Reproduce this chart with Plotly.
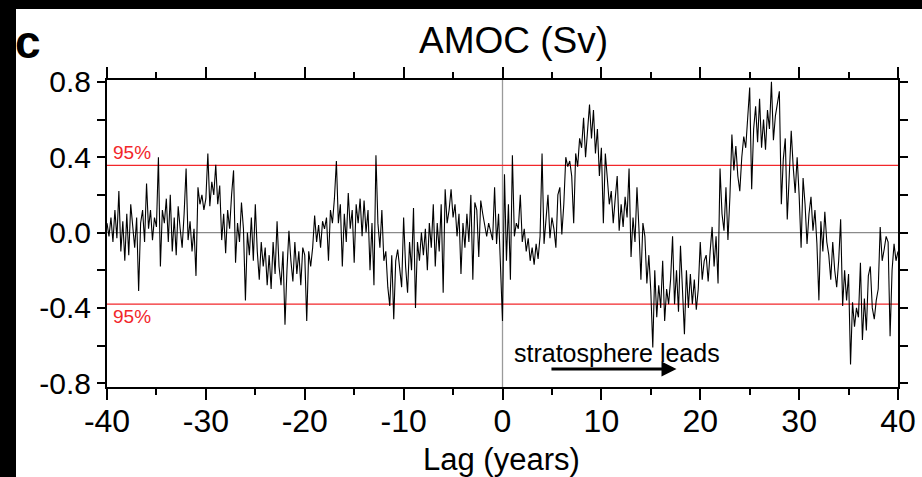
import numpy as np
import plotly.graph_objects as go

# Lag axis: 5 samples per year from -40 to +40 years
lag_start, lag_end, per_year = -40, 40, 5

# AMOC regression (Sv), one row per year of lag (5 samples each), last value at lag 40
amoc_rows = [
    [0.05, -0.02, 0.08, -0.05, 0.12],     # -40
    [-0.03, 0.22, -0.10, 0.06, -0.15],    # -39
    [0.10, -0.12, 0.15, 0.02, -0.08],     # -38
    [0.08, -0.31, 0.05, 0.12, -0.05],     # -37
    [0.26, 0.02, 0.12, -0.04, 0.08],      # -36
    [0.03, 0.40, -0.18, 0.12, 0.05],      # -35
    [0.18, -0.05, 0.20, -0.10, 0.08],     # -34
    [-0.12, 0.14, 0.02, -0.08, 0.10],     # -33
    [0.34, -0.04, 0.06, -0.10, 0.02],     # -32
    [-0.23, 0.24, 0.15, 0.20, 0.12],      # -31
    [0.18, 0.42, 0.14, 0.27, 0.20],       # -30
    [0.36, 0.15, 0.25, -0.04, 0.10],      # -29
    [-0.11, 0.12, 0.02, 0.20, 0.33],      # -28
    [-0.16, 0.05, -0.05, 0.16, 0.02],     # -27
    [-0.36, 0.00, -0.12, 0.08, -0.15],    # -26
    [0.15, -0.10, -0.25, -0.05, -0.18],   # -25
    [-0.08, -0.28, -0.12, -0.30, -0.05],  # -24
    [-0.22, 0.06, -0.18, -0.28, -0.10],   # -23
    [-0.49, -0.20, 0.01, -0.15, -0.26],   # -22
    [-0.05, -0.22, -0.10, -0.28, -0.08],  # -21
    [-0.12, -0.47, -0.10, -0.18, -0.08],  # -20
    [0.09, -0.05, 0.04, -0.08, 0.06],     # -19
    [0.02, 0.08, -0.15, 0.12, 0.05],      # -18
    [0.18, 0.38, 0.05, 0.15, -0.18],      # -17
    [0.10, -0.05, 0.21, 0.02, 0.12],      # -16
    [-0.16, 0.15, 0.05, 0.18, -0.02],     # -15
    [0.17, 0.00, 0.12, -0.20, 0.05],      # -14
    [-0.28, 0.41, 0.05, -0.08, 0.12],     # -13
    [-0.15, -0.10, -0.29, -0.39, -0.12],  # -12
    [-0.46, -0.15, -0.09, -0.20, -0.29],  # -11
    [0.08, -0.18, -0.32, -0.05, -0.20],   # -10
    [0.13, -0.40, -0.05, -0.15, 0.00],    # -9
    [-0.12, 0.02, -0.20, 0.05, -0.08],    # -8
    [0.15, -0.18, 0.05, -0.10, 0.15],     # -7
    [-0.32, 0.23, 0.05, 0.12, 0.23],      # -6
    [0.08, 0.15, -0.02, 0.10, -0.22],     # -5
    [0.05, -0.08, 0.10, -0.05, 0.20],     # -4
    [-0.25, 0.16, 0.12, -0.13, 0.17],     # -3
    [0.10, 0.03, -0.02, 0.05, 0.01],      # -2
    [-0.04, 0.24, -0.06, 0.10, -0.15],    # -1
    [-0.47, 0.31, -0.15, 0.15, -0.25],    # 0
    [0.41, -0.02, 0.05, 0.02, 0.20],      # 1
    [-0.05, 0.02, -0.10, -0.03, -0.15],   # 2
    [-0.08, -0.17, -0.06, -0.14, -0.02],  # 3
    [0.42, -0.06, 0.05, 0.20, -0.03],     # 4
    [0.08, 0.02, -0.08, 0.20, 0.24],      # 5
    [-0.01, 0.15, 0.40, 0.35, 0.38],      # 6
    [0.30, 0.05, 0.42, 0.35, 0.50],       # 7
    [0.45, 0.61, 0.40, 0.55, 0.68],       # 8
    [0.50, 0.65, 0.42, 0.55, 0.30],       # 9
    [0.45, 0.05, 0.42, 0.29, 0.15],       # 10
    [0.22, 0.05, 0.18, 0.30, 0.01],       # 11
    [0.15, 0.03, 0.19, 0.08, 0.34],       # 12
    [-0.13, 0.08, -0.05, 0.24, 0.02],     # 13
    [-0.25, 0.05, -0.02, -0.27, -0.12],   # 14
    [-0.31, -0.61, -0.20, -0.45, -0.28],  # 15
    [-0.40, -0.15, -0.47, -0.30, -0.38],  # 16
    [-0.25, -0.02, -0.38, -0.20, -0.42],  # 17
    [-0.07, -0.30, -0.54, -0.20, -0.40],  # 18
    [-0.22, -0.38, -0.25, -0.41, -0.30],  # 19
    [-0.05, -0.25, -0.15, -0.12, -0.26],  # 20
    [-0.10, 0.03, -0.18, -0.02, -0.27],   # 21
    [0.34, 0.10, 0.01, 0.24, -0.04],      # 22
    [0.19, 0.52, 0.33, 0.46, 0.30],       # 23
    [0.22, 0.40, 0.51, 0.45, 0.60],       # 24
    [0.77, 0.23, 0.55, 0.67, 0.48],       # 25
    [0.71, 0.45, 0.60, 0.44, 0.65],       # 26
    [0.55, 0.80, 0.49, 0.62, 0.68],       # 27
    [0.75, 0.15, 0.39, 0.50, 0.07],       # 28
    [0.30, 0.54, 0.35, 0.21, 0.40],       # 29
    [0.20, -0.08, 0.29, 0.15, -0.06],     # 30
    [0.10, 0.19, 0.01, 0.12, -0.06],      # 31
    [-0.36, 0.06, -0.10, 0.11, -0.05],    # 32
    [-0.12, -0.25, -0.05, -0.20, -0.29],  # 33
    [-0.15, 0.07, -0.39, -0.20, -0.36],   # 34
    [-0.22, -0.70, -0.37, -0.50, -0.40],  # 35
    [-0.45, -0.16, -0.57, -0.35, -0.52],  # 36
    [-0.23, -0.18, -0.40, -0.46, -0.36],  # 37
    [-0.30, 0.03, -0.15, -0.09, -0.02],   # 38
    [-0.05, -0.55, -0.20, -0.06, -0.15],  # 39
]
amoc_last = [-0.10]  # 40

amoc = [v for row in amoc_rows for v in row] + amoc_last
lags = np.linspace(lag_start, lag_end, len(amoc))

# 95% significance levels (Sv)
sig_upper = 0.357
sig_lower = -0.38

x_ticks = [-40, -30, -20, -10, 0, 10, 20, 30, 40]
x_ticklabels = ["-40", "-30", "-20", "-10", "0", "10", "20", "30", "40"]
y_ticks = [0.8, 0.4, 0.0, -0.4, -0.8]
y_ticklabels = ["0.8", "0.4", "0.0", "-0.4", "-0.8"]

FONT = "Liberation Sans, Arial, sans-serif"
RED = "#f2262a"

# plot-area geometry in pixels
W, H = 922, 477
ML, MR, MT, MB = 107, 24, 80, 90
PW, PH = W - ML - MR, H - MT - MB


def px(xp):
    return (xp - ML) / PW


def py(yp):
    return (H - MB - yp) / PH


fig = go.Figure()

# zero line and lag-0 line
fig.add_trace(go.Scatter(x=[lag_start, lag_end], y=[0, 0], mode="lines",
                         line=dict(color="#8a8a8a", width=1.3), hoverinfo="skip"))
fig.add_trace(go.Scatter(x=[0, 0], y=[-0.82, 0.81], mode="lines",
                         line=dict(color="#9a9a9a", width=1.3), hoverinfo="skip"))
# significance lines
for lvl in (sig_upper, sig_lower):
    fig.add_trace(go.Scatter(x=[lag_start, lag_end], y=[lvl, lvl], mode="lines",
                             line=dict(color=RED, width=1.3), hoverinfo="skip"))

fig.add_trace(go.Scatter(x=lags, y=amoc, mode="lines",
                         line=dict(color="black", width=1.1)))

fig.update_layout(
    width=W, height=H,
    margin=dict(l=ML, r=MR, t=MT, b=MB, autoexpand=False),
    paper_bgcolor="white", plot_bgcolor="white",
    showlegend=False,
    font=dict(family=FONT, color="black"),
)

fig.update_xaxes(
    range=[lag_start, lag_end], tickvals=x_ticks, ticktext=x_ticklabels,
    ticks="outside", ticklen=11, tickwidth=2, tickcolor="black",
    showline=True, linecolor="black", linewidth=2, mirror="ticks",
    showgrid=False, zeroline=False, automargin=False,
    tickfont=dict(size=32, family=FONT), ticklabelstandoff=-6,
    minor=dict(tickvals=[-35, -25, -15, -5, 5, 15, 25, 35],
               ticks="outside", ticklen=6, tickwidth=2, tickcolor="black"),
)
fig.update_yaxes(
    range=[-0.82, 0.81], tickvals=y_ticks, ticktext=y_ticklabels,
    ticks="outside", ticklen=8, tickwidth=2, tickcolor="black",
    showline=True, linecolor="black", linewidth=2, mirror="ticks",
    showgrid=False, zeroline=False, automargin=False,
    tickfont=dict(size=30, family=FONT),
    minor=dict(tickvals=[-0.6, -0.2, 0.2, 0.6],
               ticks="outside", ticklen=8, tickwidth=2, tickcolor="black"),
)

# black edges of the panel
fig.add_shape(type="rect", xref="paper", yref="paper",
              x0=px(-50), x1=px(16), y0=py(H + 50), y1=py(-50),
              fillcolor="black", line_width=0, layer="above")
fig.add_shape(type="rect", xref="paper", yref="paper",
              x0=px(-50), x1=px(W + 50), y0=py(9), y1=py(-50),
              fillcolor="black", line_width=0, layer="above")

# title, axis title and panel letter
fig.add_annotation(text="AMOC (Sv)", xref="paper", yref="paper",
                   x=px(513), y=py(41), xanchor="center", yanchor="middle",
                   showarrow=False, font=dict(size=37, family=FONT))
fig.add_annotation(text="Lag (years)", xref="paper", yref="paper",
                   x=px(501), y=py(459), xanchor="center", yanchor="middle",
                   showarrow=False, font=dict(size=31, family=FONT))
fig.add_annotation(text="<b>c</b>", xref="paper", yref="paper",
                   x=px(13), y=py(70), xanchor="left", yanchor="bottom",
                   showarrow=False, font=dict(size=46, family=FONT))

# significance labels
fig.add_annotation(text="95%", x=-39.6, y=sig_upper, xanchor="left", yanchor="bottom",
                   showarrow=False, font=dict(size=19, color=RED, family=FONT))
fig.add_annotation(text="95%", x=-39.6, y=sig_lower, xanchor="left", yanchor="top",
                   showarrow=False, font=dict(size=19, color=RED, family=FONT))

# lead/lag note with arrow
fig.add_annotation(text="stratosphere leads", x=11.6, y=-0.64,
                   xanchor="center", yanchor="middle",
                   showarrow=False, font=dict(size=25, family=FONT))
fig.add_annotation(x=17.6, y=-0.725, ax=4.8, ay=-0.725, axref="x", ayref="y",
                   xref="x", yref="y", text="", showarrow=True,
                   arrowhead=2, arrowsize=1, arrowwidth=3, arrowcolor="black")

fig.write_html("out.html")
